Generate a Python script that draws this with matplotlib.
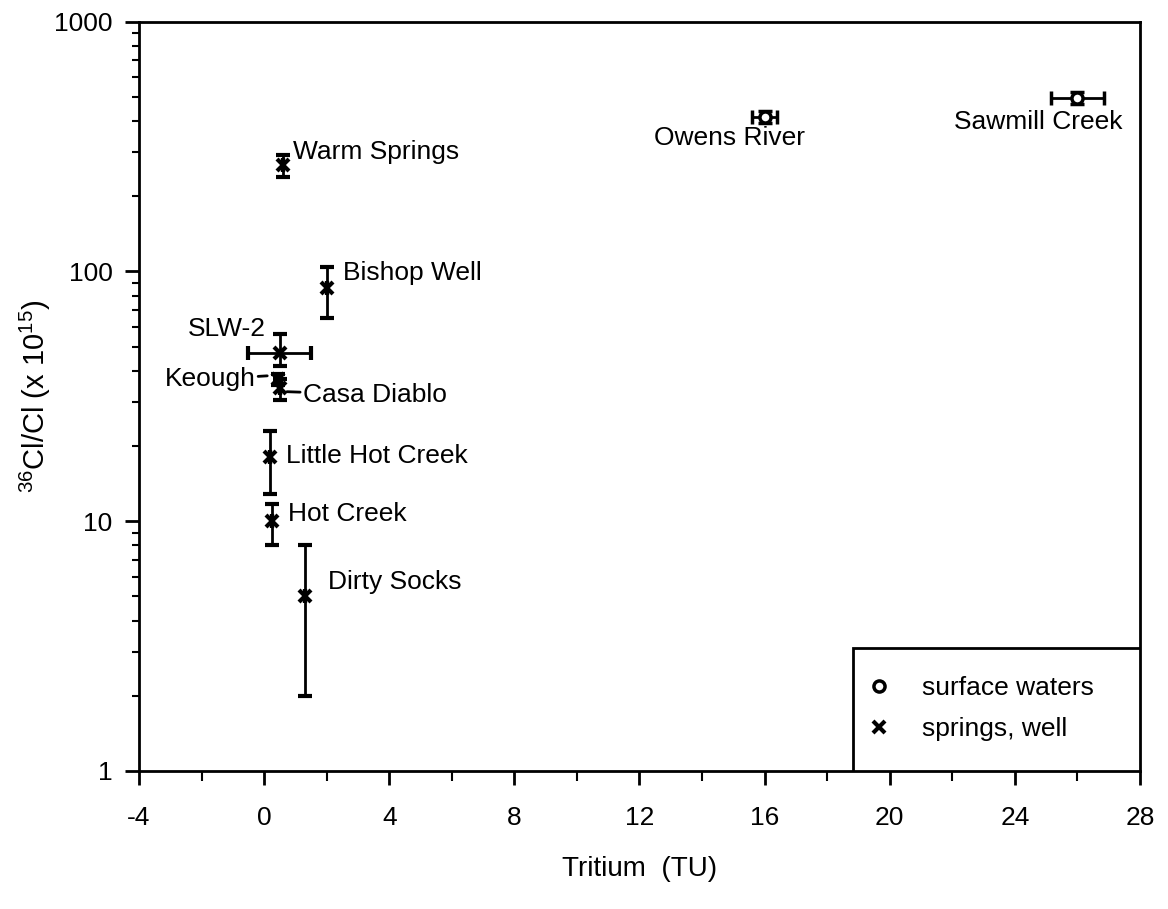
import matplotlib
matplotlib.use('Agg')
import matplotlib.pyplot as plt
from matplotlib.lines import Line2D
from matplotlib.patches import Rectangle
from matplotlib.ticker import MultipleLocator, LogLocator, NullFormatter, FixedLocator

plt.rcParams['font.family'] = ['Liberation Sans', 'DejaVu Sans']
plt.rcParams['axes.unicode_minus'] = False
plt.rcParams['mathtext.fontset'] = 'custom'
plt.rcParams['mathtext.rm'] = 'Liberation Sans'

# springs / well samples
spring_names = ["Warm Springs", "Bishop Well", "SLW-2", "Keough", "Casa Diablo",
                "Little Hot Creek", "Hot Creek", "Dirty Socks"]
spring_tritium = [0.6, 2.0, 0.5, 0.45, 0.5, 0.2, 0.25, 1.3]
spring_tritium_err = [0.0, 0.0, 1.0, 0.0, 0.0, 0.0, 0.0, 0.0]
spring_cl = [268, 86, 47, 37, 34, 18, 10, 5]
spring_cl_lo = [240, 65, 42, 35, 30.6, 12.8, 8.0, 2.0]
spring_cl_hi = [294, 104, 56, 39, 37, 23, 11.7, 8.0]

# surface waters
surf_names = ["Owens River", "Sawmill Creek"]
surf_tritium = [16.0, 26.0]
surf_tritium_err = [0.4, 0.85]
surf_cl = [417, 497]
surf_cl_lo = [395, 470]
surf_cl_hi = [440, 525]

fig = plt.figure(figsize=(11.68, 9.09), dpi=100)
ax = fig.add_axes([0.119, 0.152, 0.857, 0.824])

yerr_s = [[c - lo for c, lo in zip(spring_cl, spring_cl_lo)],
          [hi - c for c, hi in zip(spring_cl, spring_cl_hi)]]
ax.errorbar(spring_tritium, spring_cl, yerr=yerr_s, xerr=spring_tritium_err,
            fmt='x', color='black', ms=9, mew=3, elinewidth=2, capsize=5,
            capthick=2, zorder=3)

yerr_w = [[c - lo for c, lo in zip(surf_cl, surf_cl_lo)],
          [hi - c for c, hi in zip(surf_cl, surf_cl_hi)]]
ax.errorbar(surf_tritium, surf_cl, yerr=yerr_w, xerr=surf_tritium_err,
            fmt='o', color='black', mfc='white', ms=8, mew=2.5, elinewidth=2,
            capsize=5, capthick=2, zorder=3)

ax.set_yscale('log')
ax.set_xlim(-4, 28)
ax.set_ylim(1, 1000)

ax.xaxis.set_major_locator(MultipleLocator(4))
ax.xaxis.set_minor_locator(MultipleLocator(2))
ax.yaxis.set_major_locator(FixedLocator([1, 10, 100, 1000]))
ax.yaxis.set_major_formatter(plt.FuncFormatter(lambda v, p: f"{int(v)}"))
ax.yaxis.set_minor_locator(LogLocator(base=10, subs=range(2, 10)))
ax.yaxis.set_minor_formatter(NullFormatter())

ax.tick_params(which='major', direction='out', length=10, width=2, labelsize=19,
               top=False, right=False)
ax.tick_params(which='minor', direction='out', length=5, width=1.5,
               top=False, right=False)
ax.tick_params(axis='x', which='major', pad=15)
ax.tick_params(axis='x', which='minor', length=7)
ax.tick_params(axis='y', which='major', pad=9)
for s in ax.spines.values():
    s.set_linewidth(2)

fs = 19
ax.text(0.92, 302, "Warm Springs", fontsize=fs, ha='left', va='center')
ax.text(2.52, 99, "Bishop Well", fontsize=fs, ha='left', va='center')
ax.text(0.06, 58.6, "SLW-2", fontsize=fs, ha='right', va='center')
ax.annotate("Keough", xy=(0.1, 38.2), xytext=(-0.28, 37.0), fontsize=fs,
            ha='right', va='center',
            arrowprops=dict(arrowstyle='-', lw=2, color='black', shrinkA=0, shrinkB=0))
ax.annotate("Casa Diablo", xy=(0.73, 33.0), xytext=(1.24, 32.1), fontsize=fs,
            ha='left', va='center',
            arrowprops=dict(arrowstyle='-', lw=2, color='black', shrinkA=0, shrinkB=0))
ax.text(0.70, 18.2, "Little Hot Creek", fontsize=fs, ha='left', va='center')
ax.text(0.76, 10.7, "Hot Creek", fontsize=fs, ha='left', va='center')
ax.text(2.04, 5.7, "Dirty Socks", fontsize=fs, ha='left', va='center')
ax.text(14.88, 344, "Owens River", fontsize=fs, ha='center', va='center')
ax.text(24.75, 398, "Sawmill Creek", fontsize=fs, ha='center', va='center')

ax.set_xlabel("Tritium  (TU)", fontsize=20, labelpad=19)
ax.set_ylabel(r"$^{36}$Cl/Cl (x 10$^{15}$)", fontsize=21, labelpad=1)

# legend box sitting on the lower right corner of the axes
box = Rectangle((0.713, 0.0), 0.287, 0.164, transform=ax.transAxes,
                facecolor='white', edgecolor='black', linewidth=2, zorder=5)
ax.add_patch(box)
handles = [Line2D([], [], marker='o', ls='', color='black', mfc='white', ms=8, mew=2.5),
           Line2D([], [], marker='x', ls='', color='black', ms=9, mew=3)]
leg = ax.legend(handles, ["surface waters", "springs, well"], loc='center left',
                bbox_to_anchor=(0.716, 0.083), fontsize=fs, frameon=False,
                borderaxespad=0, borderpad=0.4, handlelength=1.0,
                handletextpad=1.1, labelspacing=0.64)
leg.set_zorder(6)

fig.savefig("out.png", dpi=100)
